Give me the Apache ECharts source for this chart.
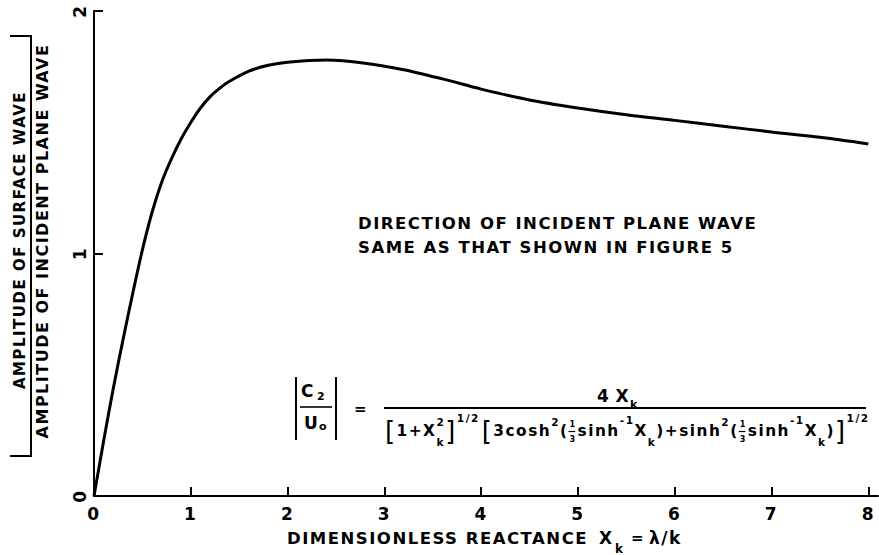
<!DOCTYPE html>
<html>
<head>
<meta charset="utf-8">
<script src="https://cdn.jsdelivr.net/npm/echarts@6/dist/echarts.min.js"></script>
<style>
  html, body { margin: 0; padding: 0; background: #fff; }
  #chart { width: 879px; height: 555px; }
  #chart text { letter-spacing: 1.5px; }
</style>
</head>
<body>
<div id="chart"></div>
<script>
// Dimensionless reactance X_k and the amplitude ratio |C2/U0| of the surface wave
const reactance = [0, 0.1, 0.2, 0.3, 0.4, 0.5, 0.6, 0.7, 0.8, 0.9, 1.0, 1.1, 1.2, 1.3, 1.4, 1.6,
  1.8, 2.0, 2.4, 2.8, 3.2, 3.6, 4.0, 4.5, 5.0, 5.5, 6.0, 6.5, 7.0, 7.5, 8.0];
const amplitudeRatio = [0, 0.228, 0.445, 0.645, 0.835, 1.015, 1.17, 1.295, 1.39, 1.472, 1.54,
  1.60, 1.647, 1.682, 1.71, 1.752, 1.776, 1.789, 1.798, 1.785, 1.758, 1.72, 1.678, 1.633,
  1.60, 1.572, 1.549, 1.525, 1.501, 1.479, 1.452];
const xTicks = [0, 1, 2, 3, 4, 5, 6, 7, 8];
const yTicks = [0, 1, 2];

const yTitleTop = 'AMPLITUDE OF SURFACE WAVE';
const yTitleBottom = 'AMPLITUDE OF INCIDENT PLANE WAVE';
const noteLines = ['DIRECTION OF INCIDENT PLANE WAVE', 'SAME AS THAT SHOWN IN FIGURE 5'];

const FONT = '"DejaVu Sans", sans-serif';
const INK = '#000';
const SPACING = 1.5; // matches the letter-spacing rule above

// text advance, including the CSS letter spacing after every glyph
const measureCtx = document.createElement('canvas').getContext('2d');
function advance(text, size, weight) {
  measureCtx.font = (weight || 'bold') + ' ' + size + 'px ' + FONT;
  return measureCtx.measureText(text).width + SPACING * text.length;
}

function txt(text, x, y, size, extra) {
  const el = {
    type: 'text', x: x, y: y, silent: true,
    style: {
      text: text, fill: INK, fontSize: size, fontWeight: 'bold', fontFamily: FONT,
      textAlign: 'left', textVerticalAlign: 'middle'
    }
  };
  if (extra) {
    if (extra.style) Object.assign(el.style, extra.style);
    if (extra.rotation != null) el.rotation = extra.rotation;
  }
  return el;
}
function seg(x1, y1, x2, y2, w) {
  return { type: 'line', silent: true, shape: { x1: x1, y1: y1, x2: x2, y2: y2 },
    style: { stroke: INK, lineWidth: w || 2 } };
}

// Lays a row of formula tokens left to right; sup/sub pairs share one slot.
function layoutRow(tokens, x0, yMid, base, small, scale) {
  let x = x0;
  const els = [];
  tokens.forEach(function (tk) {
    if (tk.gap) { x += tk.gap * scale; return; }
    if (tk.third) {
      const s = 8.5 * scale;
      const w = advance('3', s);
      els.push(txt('1', x + 1, yMid - 7 * scale, s));
      els.push(seg(x, yMid + 0.5, x + w - 0.5, yMid + 0.5, 1.2));
      els.push(txt('3', x + 1, yMid + 8 * scale, s));
      x += w + 2 * scale;
      return;
    }
    if (tk.t) {
      const s = (tk.s || base) * scale;
      const wt = tk.w || 'bold';
      els.push(txt(tk.t, x, yMid + (tk.dy || 0) * scale, s, { style: { fontWeight: wt } }));
      x += advance(tk.t, s, wt);
      return;
    }
    const s = small * scale;
    let w = 0;
    if (tk.sup) {
      els.push(txt(tk.sup, x, yMid + (tk.supDy || -9) * scale, s));
      w = Math.max(w, advance(tk.sup, s));
    }
    if (tk.sub) {
      els.push(txt(tk.sub, x, yMid + (tk.subDy || 11) * scale, s));
      w = Math.max(w, advance(tk.sub, s));
    }
    x += w;
  });
  return { els: els, width: x - x0 };
}
function fitRow(tokens, x0, width, yMid, base, small) {
  const trial = layoutRow(tokens, x0, yMid, base, small, 1);
  return layoutRow(tokens, x0, yMid, base, small, width / trial.width).els;
}

// Rotated y-axis title written as a fraction
const yTitle = [
  txt(yTitleTop, 20, 240, 15, { rotation: Math.PI / 2, style: { textAlign: 'center' } }),
  txt(yTitleBottom, 42, 241, 16, { rotation: Math.PI / 2, style: { textAlign: 'center' } }),
  { type: 'polyline', silent: true,
    shape: { points: [[10, 36], [31, 36], [31, 456], [10, 456]] },
    style: { stroke: INK, lineWidth: 2, fill: null } }
];

// x-axis title: DIMENSIONLESS REACTANCE  X_k = λ/k
const xTitle = [
  txt('DIMENSIONLESS REACTANCE', 287, 538, 16.5),
  txt('X', 599, 538, 17),
  txt('k', 615, 549, 12),
  txt('=', 631, 538, 15),
  txt('λ/k', 649, 538, 17)
];

const note = [
  txt(noteLines[0], 358, 223, 16.5),
  txt(noteLines[1], 358, 247, 16.5)
];

// |C2/U0| = 4 X_k / ([1+X_k^2]^(1/2) [3cosh^2(1/3 sinh^-1 X_k) + sinh^2(1/3 sinh^-1 X_k)]^(1/2))
const BR = { s: 27, w: 'normal' };
const denominator = [
  Object.assign({ t: '[' }, BR), { t: '1+X' }, { sup: '2', sub: 'k' },
  Object.assign({ t: ']' }, BR), { sup: '1/2', supDy: -14 }, { gap: 2 },
  Object.assign({ t: '[' }, BR), { t: '3cosh' }, { sup: '2' }, { t: '(' }, { third: true },
  { t: 'sinh' }, { sup: '-1', supDy: -11 }, { t: 'X' }, { sub: 'k' }, { t: ')' },
  { t: '+' },
  { t: 'sinh' }, { sup: '2' }, { t: '(' }, { third: true },
  { t: 'sinh' }, { sup: '-1', supDy: -11 }, { t: 'X' }, { sub: 'k' }, { t: ')' },
  Object.assign({ t: ']' }, BR), { sup: '1/2', supDy: -14 }
];
const numerator = [{ t: '4' }, { gap: 5 }, { t: 'X' }, { sub: 'k', subDy: 8 }];

const numRow = layoutRow(numerator, 0, 396, 17, 11, 1);
const formula = [
  seg(296, 377, 296, 440), seg(336, 377, 336, 440),
  txt('C', 301, 391, 17), txt('2', 317, 396, 11),
  seg(300, 407, 332, 407, 1.6),
  txt('U', 304, 423, 17), txt('o', 319, 426, 11),
  txt('=', 354, 409, 15),
  seg(384, 408, 866, 408, 2)
].concat(layoutRow(numerator, 618 - numRow.width / 2, 396, 17, 11, 1).els)
 .concat(fitRow(denominator, 385, 482, 431, 16, 11));

const chart = echarts.init(document.getElementById('chart'), null, { renderer: 'svg' });
chart.setOption({
  animation: false,
  backgroundColor: '#fff',
  grid: { left: 94, right: 1, top: 11, bottom: 59, containLabel: false },
  xAxis: {
    type: 'value', min: 0, max: 8.1,
    axisLine: { show: true, lineStyle: { color: INK, width: 2 } },
    axisTick: { show: true, inside: true, length: 9, customValues: xTicks,
      lineStyle: { color: INK, width: 2 } },
    axisLabel: { customValues: xTicks, color: INK, fontSize: 17, fontWeight: 'bold',
      fontFamily: FONT, margin: 9,
      formatter: function (v) { return Number.isInteger(v) ? String(v) : ''; } },
    splitLine: { show: false }
  },
  yAxis: {
    type: 'value', min: 0, max: 2, interval: 1,
    axisLine: { show: true, lineStyle: { color: INK, width: 2 } },
    axisTick: { show: true, inside: true, length: 9, lineStyle: { color: INK, width: 2 } },
    axisLabel: { color: INK, fontSize: 17, fontWeight: 'bold', fontFamily: FONT,
      rotate: 90, margin: 6,
      formatter: function (v) { return yTicks.indexOf(v) >= 0 ? String(v) : ''; } },
    splitLine: { show: false }
  },
  series: [{
    type: 'line',
    data: reactance.map(function (x, i) { return [x, amplitudeRatio[i]]; }),
    smooth: 0.3,
    showSymbol: false,
    lineStyle: { color: INK, width: 3 },
    silent: true
  }],
  graphic: { elements: yTitle.concat(xTitle, note, formula) }
});
</script>
</body>
</html>
